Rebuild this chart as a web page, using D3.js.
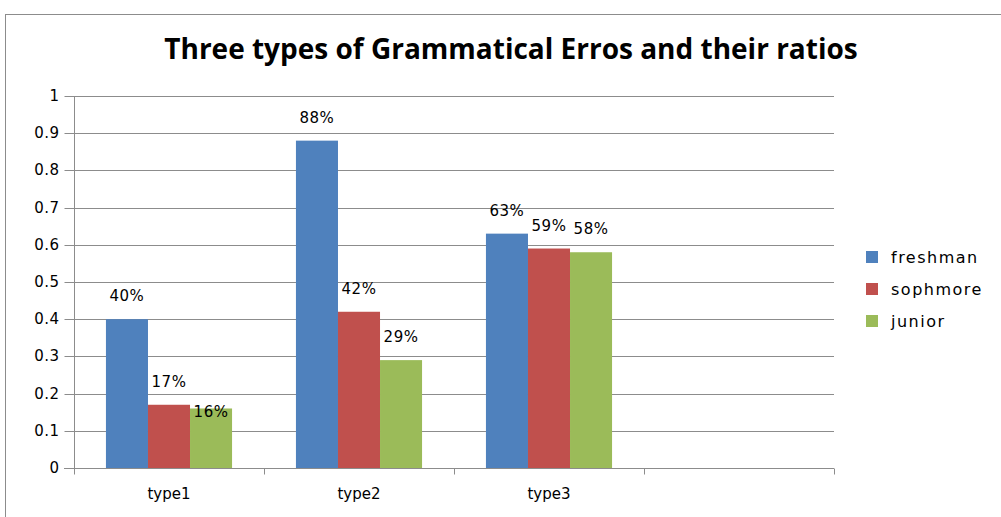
<!DOCTYPE html>
<html>
<head>
<meta charset="utf-8">
<script src="https://cdn.jsdelivr.net/npm/d3@7"></script>
<style>
  body { margin: 0; background: #fff; }
  .axis text { font-family: "DejaVu Sans", Verdana, sans-serif; fill: #000; }
</style>
</head>
<body>
<script>
// chart data
var categories = ["type1", "type2", "type3", ""];
var seriesNames = ["freshman", "sophmore", "junior"];
var freshman = [0.40, 0.88, 0.63];
var sophmore = [0.17, 0.42, 0.59];
var junior = [0.16, 0.29, 0.58];
var yTicks = [0, 0.1, 0.2, 0.3, 0.4, 0.5, 0.6, 0.7, 0.8, 0.9, 1];
var labels = [["40%", "88%", "63%"], ["17%", "42%", "59%"], ["16%", "29%", "58%"]];

var colors = ["#4F81BD", "#C0504D", "#9BBB59"];
var series = [freshman, sophmore, junior];

var width = 1001, height = 517;
var margin = {top: 96, right: 167, bottom: 49, left: 74};
var plotW = width - margin.left - margin.right,
    plotH = height - margin.top - margin.bottom;

var svg = d3.select("body").append("svg")
    .attr("width", width)
    .attr("height", height);

// outer chart border
svg.append("rect")
    .attr("x", 5.5).attr("y", 14.5)
    .attr("width", 1100).attr("height", 600)
    .style("fill", "none").style("stroke", "#8c8c8c");

svg.append("text")
    .attr("x", 511).attr("y", 59)
    .attr("text-anchor", "middle")
    .style("font-family", "'Open Sans', Lato, sans-serif")
    .style("font-weight", "bold")
    .style("font-size", "28px")
    .text("Three types of Grammatical Erros and their ratios");

var g = svg.append("g")
    .attr("transform", "translate(" + margin.left + "," + margin.top + ")");

var x0 = d3.scaleBand().domain(categories.map(function(d, i) { return i; })).range([0, plotW]);
var x1 = d3.scaleBand().domain(seriesNames).range([0, x0.bandwidth()]).paddingOuter(0.76);
var y = d3.scaleLinear().domain([0, 1]).range([plotH, 0]);

// grid lines
g.selectAll(".grid").data(yTicks.slice(1)).enter().append("line")
    .attr("x1", 0).attr("x2", plotW)
    .attr("y1", function(d) { return Math.round(y(d)) + 0.5; })
    .attr("y2", function(d) { return Math.round(y(d)) + 0.5; })
    .style("stroke", "#8c8c8c");

// bars
series.forEach(function(vals, s) {
    g.selectAll(".bar" + s).data(vals).enter().append("rect")
        .attr("x", function(d, i) { return x0(i) + x1(seriesNames[s]); })
        .attr("y", function(d) { return y(d); })
        .attr("width", x1.bandwidth())
        .attr("height", function(d) { return plotH - y(d); })
        .style("fill", colors[s]);
});

// data labels (the 16% one sits lower in the original)
var nudge = {"2-0": 27};
series.forEach(function(vals, s) {
    g.selectAll(".lbl" + s).data(vals).enter().append("text")
        .attr("x", function(d, i) { return x0(i) + x1(seriesNames[s]) + x1.bandwidth() / 2; })
        .attr("y", function(d, i) { return y(d) - 18 + (nudge[s + "-" + i] || 0); })
        .attr("text-anchor", "middle")
        .style("font-family", "'DejaVu Sans', Verdana, sans-serif")
        .style("font-size", "15px")
        .style("letter-spacing", "0.5px")
        .text(function(d, i) { return labels[s][i]; });
});

// y axis
var yAxis = g.append("g").attr("class", "axis")
    .attr("transform", "translate(0.5,0)")
    .call(d3.axisLeft(y).tickValues(yTicks).tickSize(10).tickPadding(5).tickFormat(d3.format("")));
yAxis.selectAll("line").style("stroke", "#8c8c8c");
yAxis.selectAll(".tick").attr("transform", function(d) { return "translate(0," + (Math.round(y(d)) + 0.5) + ")"; });
yAxis.selectAll("text").style("font-size", "15px").style("letter-spacing", "0.5px");
yAxis.select(".domain").remove();
g.append("line").attr("x1", 0.5).attr("x2", 0.5).attr("y1", 0).attr("y2", plotH + 6)
    .style("stroke", "#8c8c8c");

// x axis
var xAxis = g.append("g").attr("class", "axis")
    .attr("transform", "translate(0," + (plotH + 0.5) + ")");
xAxis.append("line").attr("x1", -10).attr("x2", plotW).style("stroke", "#8c8c8c");
xAxis.selectAll(".xt").data(d3.range(categories.length + 1)).enter().append("line")
    .attr("x1", function(d) { return Math.round(d * x0.step()) + 0.5; })
    .attr("x2", function(d) { return Math.round(d * x0.step()) + 0.5; })
    .attr("y1", 0).attr("y2", 6)
    .style("stroke", "#8c8c8c");
xAxis.selectAll(".xl").data(categories).enter().append("text")
    .attr("x", function(d, i) { return x0(i) + x0.bandwidth() / 2; })
    .attr("y", 30)
    .attr("text-anchor", "middle")
    .style("font-size", "15px")
    .text(function(d) { return d; });

// legend
var legend = svg.append("g").attr("transform", "translate(866,251)");
seriesNames.forEach(function(name, i) {
    legend.append("rect")
        .attr("x", 0).attr("y", i * 32)
        .attr("width", 12).attr("height", 12)
        .style("fill", colors[i]);
    legend.append("text")
        .attr("x", 25).attr("y", i * 32 + 6)
        .attr("dy", "0.35em")
        .style("font-family", "'DejaVu Sans', Verdana, sans-serif")
        .style("font-size", "16px")
        .style("letter-spacing", "1.5px")
        .text(name);
});
</script>
</body>
</html>
